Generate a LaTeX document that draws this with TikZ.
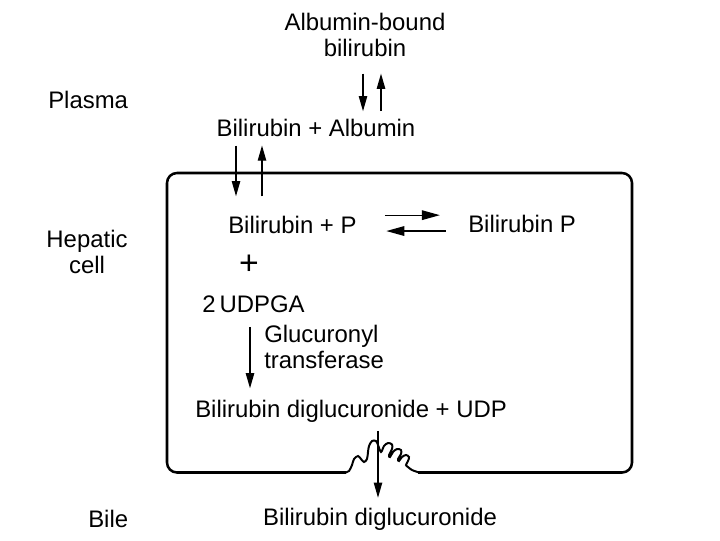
\documentclass[tikz,border=0pt]{standalone}
\usepackage{fontspec}
\setmainfont{Liberation Sans}
\usetikzlibrary{arrows.meta,positioning}
\tikzset{
  chemtext/.style={font=\fontsize{17}{18}\selectfont,inner sep=0pt},
  flowarrow/.style={-{Triangle[length=3.8mm,width=2.1mm]},line width=0.9pt},
  eqarrow/.style={-{Triangle[length=4.5mm,width=2.4mm]},line width=0.9pt},
  cellwall/.style={draw,line width=1.8pt,rounded corners=2.5mm},
  microvilli/.style={line width=1.4pt}
}
\begin{document}
\begin{tikzpicture}[x=0.025cm,y=-0.025cm, every node/.style={chemtext}]
\useasboundingbox (0,0) rectangle (720,540);
% labels on the left
\node[align=left,anchor=west] (plasma) at (48,100) {Plasma};
\node[align=center] (hepatic) at (87,252) {Hepatic\\cell};
\node[anchor=west] (bile) at (88,519) {Bile};
% plasma side
\node[align=center] (bound) at (365,35) {Albumin-bound\\bilirubin};
\node (balb) at (316,128) {Bilirubin + Albumin};
% inside the cell
\node[anchor=west] (bp) at (228,225) {Bilirubin + P};
\node[anchor=west] (bilp) at (468,224) {Bilirubin P};
\node (plus) at (249,265) {\fontsize{24}{24}\selectfont +};
\node[anchor=west] (udpga) at (202,304) {2\,UDPGA};
\node[anchor=west,align=left] (enzyme) at (264,347) {Glucuronyl\\transferase};
\node[anchor=west] (diglu) at (195,411) {Bilirubin diglucuronide + UDP};
% bile side
\node (bdg) at (380,519) {Bilirubin diglucuronide};
% cell wall with canaliculus
\draw[cellwall] (346,472.5) -- (167,472.5) -- (167,173) -- (632,173) -- (632,472.5) -- (418,472.5);
\draw[microvilli] plot[smooth,tension=0.55] coordinates {(345,472.5) (349,471) (352,465) (354,459) (358,456)
  (361,459) (364,462) (367,459) (368,452) (369,446) (372,441) (376,441) (378,445) (381,452)
  (384,446) (388,443) (392,444.5) (392,449) (389,455) (390,457)
  (393,452) (397,449) (401,450) (401,454) (398,459) (399,461)
  (402,457) (406,455) (409,457) (408,461) (406,465) (408,467)
  (412,470) (419,472.5)};
% arrows
\draw[flowarrow,shorten <=12pt,shorten >=5.5pt] (363,0 |- bound.south) -- (363,0 |- balb.north);
\draw[flowarrow,shorten <=5.5pt,shorten >=12pt] (381,0 |- balb.north) -- (381,0 |- bound.south);
\draw[flowarrow,shorten <=6pt,shorten >=14pt] (236,0 |- balb.south) -- (236,0 |- bp.north);
\draw[flowarrow,shorten <=14pt,shorten >=6pt] (262,0 |- bp.north) -- (262,0 |- balb.south);
\draw[eqarrow,shorten <=20pt,shorten >=20pt] ([yshift=7pt]bp.east) -- ([yshift=7pt]bp.east -| bilp.west);
\draw[eqarrow,shorten <=16pt,shorten >=21pt] ([yshift=-5pt]bilp.west) -- ([yshift=-5pt]bilp.west -| bp.east);
\draw[flowarrow,shorten <=10pt,shorten >=8pt] (250,0 |- udpga.south) -- (250,0 |- diglu.north);
\draw[flowarrow,shorten <=6pt,shorten >=7pt] (378,0 |- diglu.south) -- (378,0 |- bdg.north);
\end{tikzpicture}
\end{document}
